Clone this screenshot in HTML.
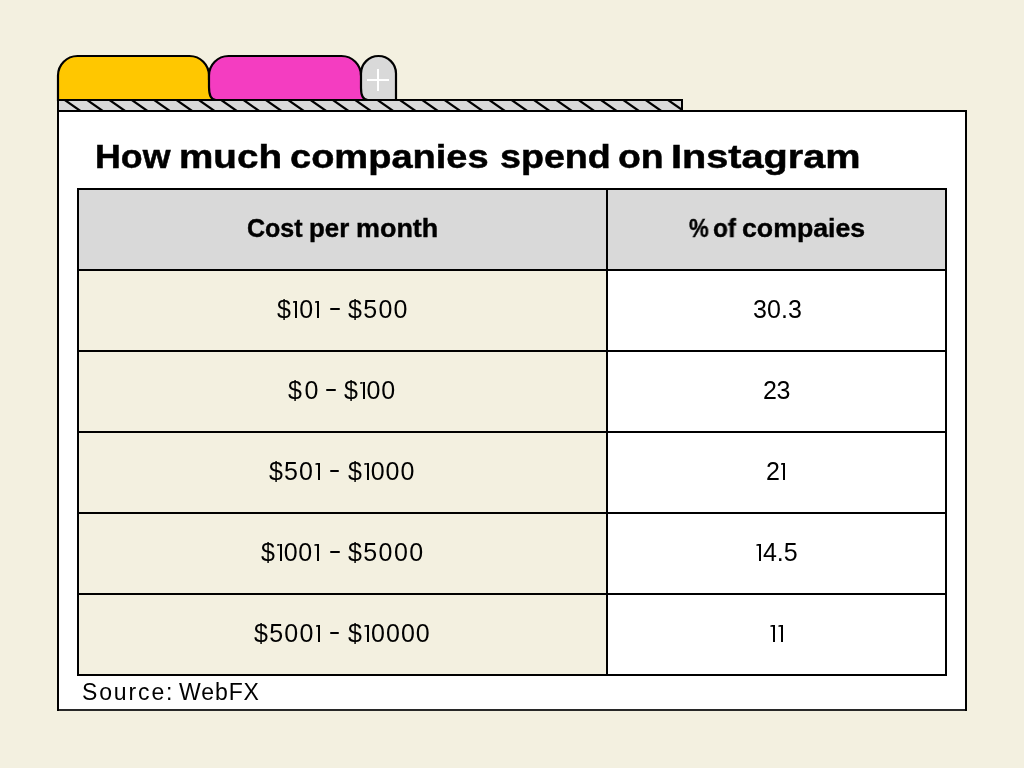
<!DOCTYPE html>
<html>
<head>
<meta charset="utf-8">
<style>
html,body{margin:0;padding:0;}
body{width:1024px;height:768px;background:#F3F0E0;position:relative;overflow:hidden;font-family:"Liberation Sans",sans-serif;color:#000;}
svg.g{position:absolute;left:0;top:0;}
.t{position:absolute;white-space:nowrap;line-height:1;will-change:transform;}
.title{top:138.6px;font-size:34px;font-weight:bold;transform-origin:0 0;-webkit-text-stroke:0.5px #000;}
.hd{top:216px;font-size:25px;font-weight:bold;transform-origin:0 0;-webkit-text-stroke:0.4px #000;}
.cell{font-size:25px;transform-origin:0 0;}
.one{display:inline-block;position:relative;width:8px;height:17.2px;}
.one::before{content:"";position:absolute;left:3.9px;bottom:0;width:2px;height:17.2px;background:#000;}
.one::after{content:"";position:absolute;left:1.4px;top:0;width:2.6px;height:2px;background:#000;clip-path:polygon(0 35%,100% 0,100% 100%,0 100%);}
.dash{position:absolute;height:1.9px;background:#000;border-radius:1px;}
.src{top:681px;font-size:23px;}
</style>
</head>
<body>
<svg class="g" width="1024" height="768" viewBox="0 0 1024 768">
  <defs>
    <clipPath id="bandclip"><rect x="59" y="101" width="622" height="9"/></clipPath>
  </defs>
  <!-- card -->
  <rect x="58" y="111" width="908" height="599" fill="#FFFFFF" stroke="#000" stroke-width="2"/>
  <path d="M59,710 H965" stroke="#282828" stroke-width="2"/>
  <!-- yellow tab -->
  <path d="M58,101 V75.5 A19.5,19.5 0 0 1 77.5,56 H189.5 A19.5,19.5 0 0 1 209,75.5 V82 L222,82 V101 Z" fill="#FFC700"/>
  <path d="M58,101 V75.5 A19.5,19.5 0 0 1 77.5,56 H189.5 A19.5,19.5 0 0 1 209,75.5 V80" fill="none" stroke="#000" stroke-width="2.2"/>
  <!-- pink tab -->
  <path d="M216,100 C211.5,100 209,96 209,87 V75.5 A19.5,19.5 0 0 1 228.5,56 H341.5 A19.5,19.5 0 0 1 361,75.5 V82 L372,82 V100 Z" fill="#F43DC1"/>
  <path d="M216,100 C211.5,100 209,96 209,87 V75.5 A19.5,19.5 0 0 1 228.5,56 H341.5 A19.5,19.5 0 0 1 361,75.5" fill="none" stroke="#000" stroke-width="2.2" stroke-linecap="round"/>
  <!-- gray tab -->
  <path d="M368,100 C363.5,100 361,96 361,88 V73.5 A17.5,17.5 0 0 1 396,73.5 V100 Z" fill="#D9D9D9" stroke="#000" stroke-width="2.2"/>
  <path d="M367,80 H389 M378,69 V91" stroke="#fff" stroke-width="2"/>
  <!-- band -->
  <rect x="58" y="100" width="624" height="11" fill="#D9D9D9"/>
  <g clip-path="url(#bandclip)" stroke="#000" stroke-width="2.2">
    <path d="M5.76,90 L48.75,120 M28.10,90 L71.09,120 M50.44,90 L93.43,120 M72.78,90 L115.77,120 M95.12,90 L138.11,120 M117.46,90 L160.45,120 M139.80,90 L182.79,120 M162.14,90 L205.13,120 M184.48,90 L227.47,120 M206.82,90 L249.81,120 M229.16,90 L272.15,120 M251.50,90 L294.49,120 M273.84,90 L316.83,120 M296.18,90 L339.17,120 M318.52,90 L361.51,120 M340.86,90 L383.85,120 M363.20,90 L406.19,120 M385.54,90 L428.53,120 M407.88,90 L450.87,120 M430.22,90 L473.21,120 M452.56,90 L495.55,120 M474.90,90 L517.89,120 M497.24,90 L540.23,120 M519.58,90 L562.57,120 M541.92,90 L584.91,120 M564.26,90 L607.25,120 M586.60,90 L629.59,120 M608.94,90 L651.93,120 M631.28,90 L674.27,120 M653.62,90 L696.61,120 M675.96,90 L718.95,120 M698.30,90 L741.29,120"/>
  </g>
  <rect x="58" y="100" width="624" height="11" fill="none" stroke="#000" stroke-width="2"/>
  <!-- table -->
  <rect x="78" y="189" width="868" height="81" fill="#D9D9D9"/>
  <rect x="78" y="270" width="529" height="405" fill="#F3F0E0"/>
  <rect x="607" y="270" width="339" height="405" fill="#FFFFFF"/>
  <g stroke="#000" stroke-width="2" fill="none">
    <rect x="78" y="189" width="868" height="486"/>
    <path d="M607,188 V676 M77,270 H947 M77,351 H947 M77,432 H947 M77,513 H947 M77,594 H947"/>
  </g>
</svg>
<div class="t title" style="left:94.8px;transform:scaleX(1.051);">How</div>
<div class="t title" style="left:179.2px;transform:scaleX(1.136);">much</div>
<div class="t title" style="left:290.2px;transform:scaleX(1.118);">companies</div>
<div class="t title" style="left:500.4px;transform:scaleX(1.107);">spend</div>
<div class="t title" style="left:617.6px;transform:scaleX(1.1);">on</div>
<div class="t title" style="left:671.1px;transform:scaleX(1.167);">Instagram</div>
<div class="t hd" style="left:247px;transform:scaleX(1.0);">Cost</div>
<div class="t hd" style="left:308.7px;transform:scaleX(1.034);">per</div>
<div class="t hd" style="left:355.9px;transform:scaleX(1.077);">month</div>
<div class="t hd" style="left:688.8px;transform:scaleX(0.886);">%</div>
<div class="t hd" style="left:713.2px;transform:scaleX(0.974);">of</div>
<div class="t hd" style="left:741.8px;transform:scaleX(1.068);">compaies</div>

<div class="t cell" style="left:276.9px;top:297px;letter-spacing:0.37px;">$<span class="one"></span>0<span class="one"></span></div>
<div class="dash" style="left:330px;top:308.1px;width:9.6px;"></div>
<div class="t cell" style="left:348.1px;top:297px;letter-spacing:1.30px;">$500</div>
<div class="t cell" style="left:752.5px;top:297px;letter-spacing:0.10px;">30.3</div>
<div class="t cell" style="left:287.9px;top:378px;letter-spacing:2.60px;">$0</div>
<div class="dash" style="left:326.3px;top:389.1px;width:9.6px;"></div>
<div class="t cell" style="left:344.4px;top:378px;letter-spacing:0.70px;">$<span class="one"></span>00</div>
<div class="t cell" style="left:762.8px;top:378px;letter-spacing:-0.50px;">23</div>
<div class="t cell" style="left:269.3px;top:459px;letter-spacing:1.10px;">$50<span class="one"></span></div>
<div class="dash" style="left:329.8px;top:470.1px;width:9.6px;"></div>
<div class="t cell" style="left:347.9px;top:459px;letter-spacing:0.90px;">$<span class="one"></span>000</div>
<div class="t cell" style="left:766.0px;top:459px;letter-spacing:-0.60px;">2<span class="one"></span></div>
<div class="t cell" style="left:261.4px;top:540px;letter-spacing:0.75px;">$<span class="one"></span>00<span class="one"></span></div>
<div class="dash" style="left:330.2px;top:551.1px;width:9.6px;"></div>
<div class="t cell" style="left:348.0px;top:540px;letter-spacing:1.40px;">$5000</div>
<div class="t cell" style="left:754.8px;top:540px;letter-spacing:-0.03px;"><span class="one"></span>4.5</div>
<div class="t cell" style="left:253.6px;top:621px;letter-spacing:1.23px;">$500<span class="one"></span></div>
<div class="dash" style="left:329.8px;top:632.1px;width:9.6px;"></div>
<div class="t cell" style="left:348.3px;top:621px;letter-spacing:1.06px;">$<span class="one"></span>0000</div>
<div class="t cell" style="left:768.9px;top:621px;letter-spacing:-0.70px;"><span class="one"></span><span class="one"></span></div>
<div class="t src" style="left:82.2px;letter-spacing:1.87px;">Source:</div>
<div class="t src" style="left:179.2px;letter-spacing:0.92px;">WebFX</div>
</body>
</html>
